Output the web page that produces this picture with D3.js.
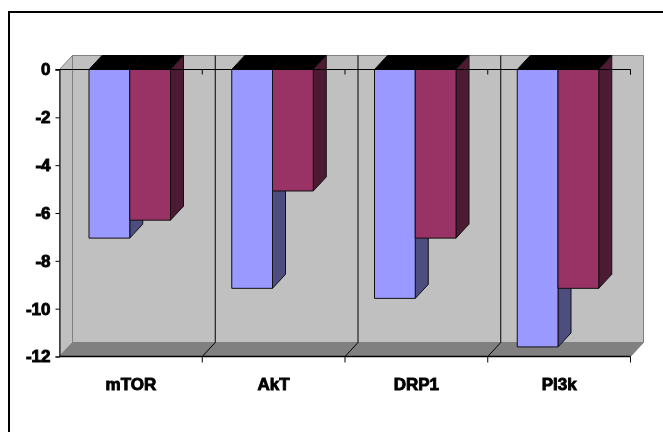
<!DOCTYPE html>
<html>
<head>
<meta charset="utf-8">
<script src="https://cdn.jsdelivr.net/npm/d3@7"></script>
<style>
  html, body { margin: 0; padding: 0; background: #fff; }
  svg { display: block; }
  text { font-family: "Liberation Sans", Arial, sans-serif; font-weight: bold; fill: #000; }
</style>
</head>
<body>
<svg id="chart" width="663" height="432"></svg>
<script>
const categories = ['mTOR', 'AkT', 'DRP1', 'PI3k'];
const blueValues = [-7.05, -9.15, -9.57, -11.6];
const redValues = [-6.3, -5.08, -7.05, -9.15];
const yTicks = [0, -2, -4, -6, -8, -10, -12];

const svg = d3.select('#chart');

// the labels in the original are a bit smeared
svg.append('defs').append('filter').attr('id', 'smear')
  .append('feGaussianBlur').attr('stdDeviation', 0.45);

// the picture frame only has a top and a left edge
svg.append('path')
  .attr('d', 'M9,432V12H663')
  .attr('fill', 'none')
  .attr('stroke', '#000')
  .attr('stroke-width', 2);

const left = 59.5, right = 630.5, top0 = 69.5, bottom = 356.5;
const dx = 13, dy = -14; // 3d depth offset

const x = d3.scaleBand().domain(categories).range([left, right]);
const y = d3.scaleLinear().domain([0, -12]).range([top0, bottom]);
const inner = d3.scaleBand().domain(['blue', 'red']).range([29.5, 111]);

// wall, side wall, floor
const poly = (pts) => 'M' + pts.map((p) => p.join(',')).join('L') + 'Z';
svg.append('path')
  .attr('d', poly([[left + dx, top0 + dy], [right + dx, top0 + dy], [right + dx, bottom + dy], [left + dx, bottom + dy]]))
  .attr('fill', '#c0c0c0').attr('stroke', '#808080');
svg.append('path')
  .attr('d', poly([[left, top0], [left + dx, top0 + dy], [left + dx, bottom + dy], [left, bottom]]))
  .attr('fill', '#c0c0c0').attr('stroke', '#808080');
svg.append('path')
  .attr('d', poly([[left, bottom], [left + dx, bottom + dy], [right + dx, bottom + dy], [right, bottom]]))
  .attr('fill', '#808080').attr('stroke', '#808080');

// gridlines between categories, wall then floor then tick
categories.forEach((c, i) => {
  const gx = x(c) + x.step();
  svg.append('path')
    .attr('d', `M${gx + dx},${top0 + dy}V${bottom + dy}L${gx},${bottom}V${bottom + 6}`)
    .attr('fill', 'none')
    .attr('stroke', '#000')
    .attr('stroke-opacity', i == 3 ? 0 : 1);
  svg.append('path')
    .attr('d', `M${gx},${top0}v5`)
    .attr('stroke', '#000');
});
svg.append('path')
  .attr('d', `M${right},${bottom}V${bottom + 6}`)
  .attr('stroke', '#000');

// bars
function drawBar(cat, key, value, colors) {
  const x0 = x(cat) + inner(key);
  const x1 = x0 + inner.bandwidth();
  const y0 = y(0), y1 = y(value);
  const g = svg.append('g').attr('stroke', '#111').attr('stroke-linejoin', 'round');
  g.append('path')
    .attr('d', poly([[x0, y0], [x0 + dx, y0 + dy], [x1 + dx, y0 + dy], [x1, y0]]))
    .attr('fill', '#000').attr('stroke', '#000');
  g.append('path')
    .attr('d', poly([[x1, y0], [x1 + dx, y0 + dy], [x1 + dx, y1 + dy], [x1, y1]]))
    .attr('fill', colors[1]);
  g.append('rect')
    .attr('x', x0).attr('y', y0)
    .attr('width', x1 - x0).attr('height', y1 - y0)
    .attr('fill', colors[0]);
}
categories.forEach((c, i) => {
  drawBar(c, 'blue', blueValues[i], ['#9999ff', '#4d4d80']);
});
categories.forEach((c, i) => {
  drawBar(c, 'red', redValues[i], ['#993366', '#4d1a33']);
});

// axes
const yAxis = svg.append('g')
  .attr('transform', `translate(${left},0)`)
  .call(d3.axisLeft(y).tickValues(yTicks).tickSize(4).tickPadding(5).tickFormat((d) => d));
yAxis.select('.domain').attr('stroke', '#000');
yAxis.selectAll('text')
  .attr('font-size', 17).attr('stroke', '#000').attr('stroke-width', 0.9)
  .attr('font-family', null).attr('filter', 'url(#smear)');

svg.append('path')
  .attr('d', `M${left - 4},${top0}H${right}V${top0 + 5}`)
  .attr('fill', 'none').attr('stroke', '#000');
svg.append('path')
  .attr('d', `M${left},${bottom}H${right}`)
  .attr('stroke', '#000').attr('stroke-width', 1.5);

const xAxis = svg.append('g')
  .attr('transform', `translate(0,${bottom})`)
  .call(d3.axisBottom(x).tickSize(0).tickPadding(21));
xAxis.select('.domain').remove();
xAxis.selectAll('text')
  .attr('font-size', 17).attr('stroke', '#000').attr('stroke-width', 0.9)
  .attr('font-family', null).attr('filter', 'url(#smear)');
</script>
</body>
</html>
